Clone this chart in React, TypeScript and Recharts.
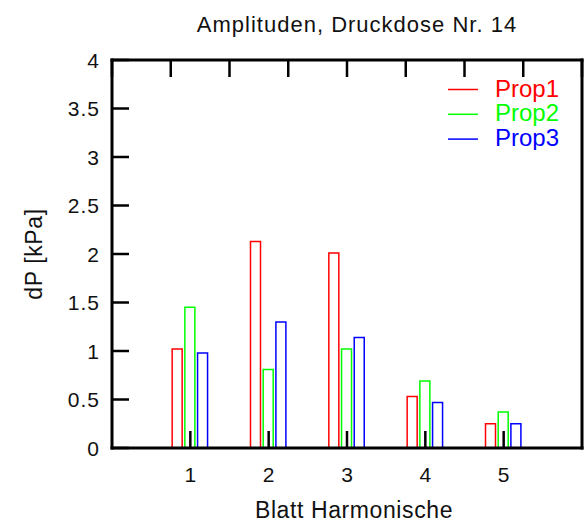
import { Bar, BarChart, Label, Legend, XAxis, YAxis } from "recharts";

const harmonics = [1, 2, 3, 4, 5];
const prop1 = [1.02, 2.13, 2.01, 0.53, 0.25];
const prop2 = [1.45, 0.81, 1.02, 0.69, 0.37];
const prop3 = [0.98, 1.3, 1.14, 0.47, 0.25];
const yTicks = [0, 0.5, 1, 1.5, 2, 2.5, 3, 3.5, 4];

const series = [
  { key: "prop1", name: "Prop1", color: "#ff0000" },
  { key: "prop2", name: "Prop2", color: "#00ff00" },
  { key: "prop3", name: "Prop3", color: "#0000ff" },
];

const data = harmonics.map((h, i) => ({
  h,
  prop1: prop1[i],
  prop2: prop2[i],
  prop3: prop3[i],
}));

const FONT = "'Liberation Sans', Arial, Helvetica, sans-serif";
const frame = { stroke: "#000", strokeWidth: 3, strokeLinecap: "square" as const };
const TICK = 17;

// inward tick marks on all four sides, like the original plot box
function BottomTick(p: any) {
  return (
    <g>
      <line x1={p.x} y1={p.y} x2={p.x} y2={p.y - TICK} stroke="#000" strokeWidth={2.5} />
      <text x={p.x} y={p.y + 34} textAnchor="middle" fontSize={21} fontFamily={FONT} fill="#111">
        {p.payload.value}
      </text>
    </g>
  );
}

function TopTick(p: any) {
  return <line x1={p.x} y1={p.y} x2={p.x} y2={p.y + TICK} stroke="#000" strokeWidth={2.5} />;
}

function LeftTick(p: any) {
  return (
    <g>
      <line x1={p.x} y1={p.y} x2={p.x + TICK} y2={p.y} stroke="#000" strokeWidth={2.5} />
      <text
        x={p.x - 12}
        y={p.y + 7.5}
        textAnchor="end"
        fontSize={21}
        letterSpacing={1}
        fontFamily={FONT}
        fill="#111"
      >
        {p.payload.value}
      </text>
    </g>
  );
}

function RightTick(p: any) {
  return <line x1={p.x} y1={p.y} x2={p.x - TICK} y2={p.y} stroke="#000" strokeWidth={2.5} />;
}

function PropLegend() {
  return (
    <svg width={130} height={80}>
      {series.map((s, i) => (
        <g key={s.key}>
          <line x1={1} y1={19.5 + i * 24.8} x2={31} y2={19.5 + i * 24.8} stroke={s.color} strokeWidth={1.5} />
          <text x={48} y={26.5 + i * 24.8} fontSize={24} fontFamily={FONT} fill={s.color}>
            {s.name}
          </text>
        </g>
      ))}
    </svg>
  );
}

export default function App() {
  return (
    <div style={{ position: "absolute", left: 0, top: 0, background: "#fff" }}>
      <BarChart
        width={587}
        height={526}
        data={data}
        margin={{ top: 59, right: 0, bottom: 0, left: 0 }}
        barSize={10}
        barGap={2.7}
      >
        <XAxis
          dataKey="h"
          type="number"
          domain={[0, 6]}
          ticks={harmonics}
          interval={0}
          height={78}
          tickSize={0}
          tickMargin={0}
          tickLine={false}
          axisLine={frame}
          tick={BottomTick}
        >
          <Label
            value="Blatt Harmonische"
            position="insideBottom"
            offset={8}
            dx={7}
            style={{ fontSize: 23, fontFamily: FONT, fill: "#111", letterSpacing: 0.6 }}
          />
        </XAxis>
        {/* mirror axes without series: explicit ticks are ignored here, so use tickCount */}
        <XAxis
          xAxisId="top"
          orientation="top"
          type="number"
          domain={[0, 6]}
          tickCount={7}
          interval={0}
          height={1}
          tickSize={0}
          tickMargin={0}
          tickLine={false}
          axisLine={frame}
          tick={TopTick}
        >
          <Label
            value="Amplituden, Druckdose Nr. 14"
            position="top"
            offset={27}
            dx={10}
            style={{ fontSize: 22, fontFamily: FONT, fill: "#111", letterSpacing: 1 }}
          />
        </XAxis>
        <YAxis
          domain={[0, 4]}
          ticks={yTicks}
          interval={0}
          width={112}
          tickSize={0}
          tickMargin={0}
          tickLine={false}
          axisLine={frame}
          tick={LeftTick}
        >
          <Label
            value="dP [kPa]"
            position="insideLeft"
            angle={-90}
            offset={27}
            dx={7}
            style={{ fontSize: 23, fontFamily: FONT, fill: "#111", textAnchor: "middle", letterSpacing: 0.6 }}
          />
        </YAxis>
        <YAxis
          yAxisId="right"
          orientation="right"
          type="number"
          domain={[0, 4]}
          tickCount={9}
          interval={0}
          width={5}
          tickSize={0}
          tickMargin={0}
          tickLine={false}
          axisLine={frame}
          tick={RightTick}
        />
        <Legend
          layout="vertical"
          align="center"
          verticalAlign="middle"
          content={() => <PropLegend />}
          wrapperStyle={{ left: 447, top: 70, width: 130 }}
        />
        {series.map((s) => (
          <Bar
            key={s.key}
            dataKey={s.key}
            name={s.name}
            fill="none"
            stroke={s.color}
            strokeWidth={1.5}
            isAnimationActive={false}
          />
        ))}
      </BarChart>
    </div>
  );
}
